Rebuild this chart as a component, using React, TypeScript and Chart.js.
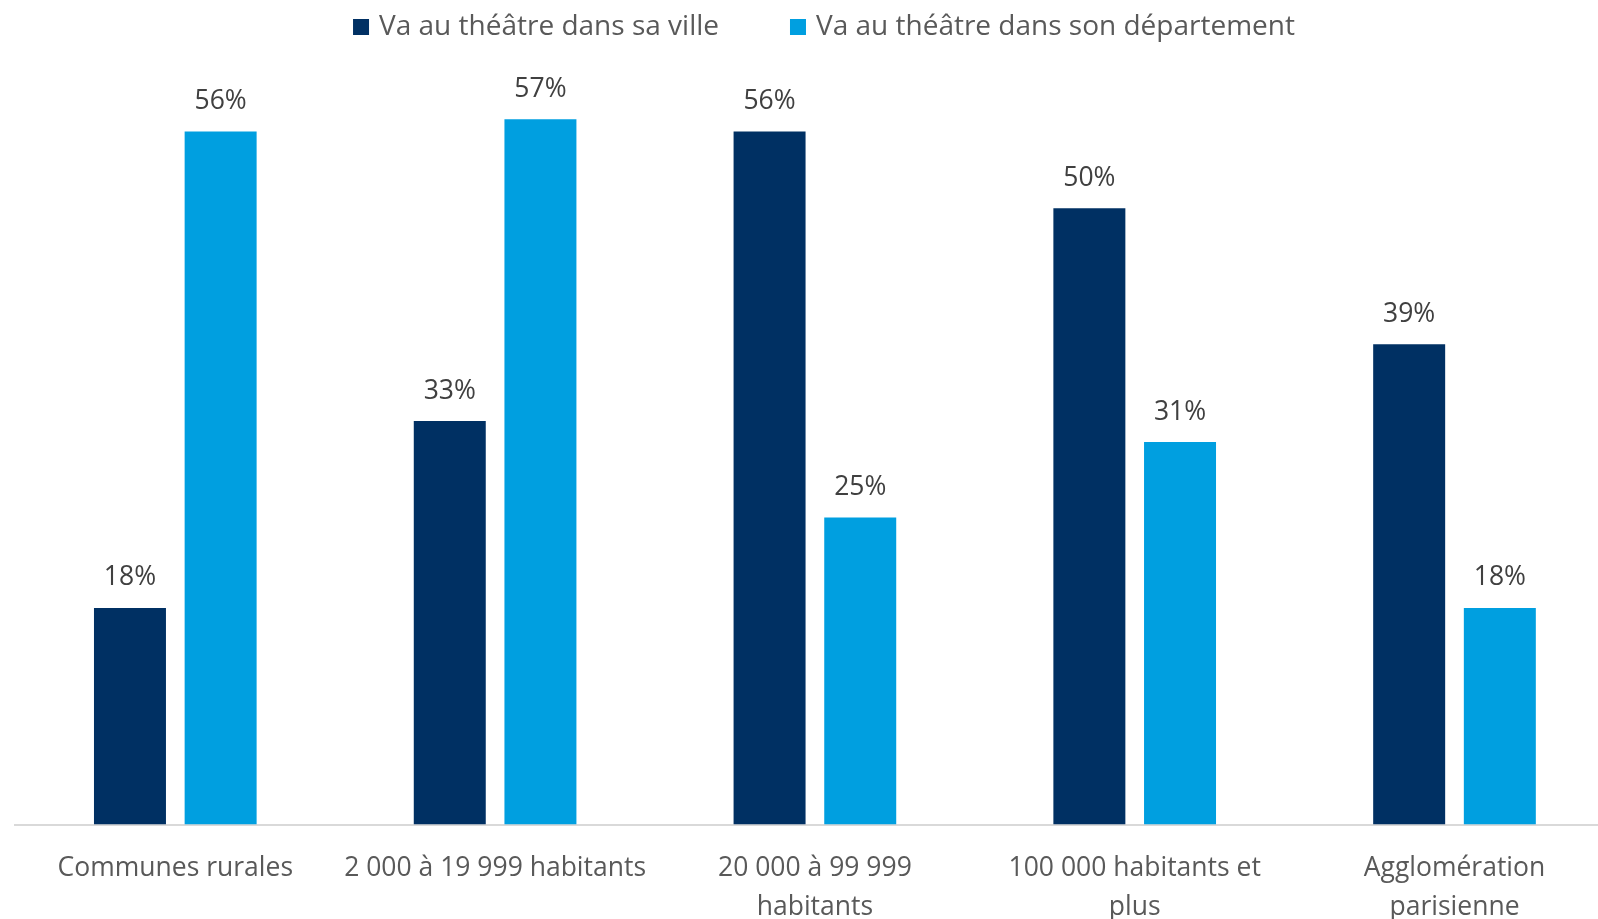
import React, { useEffect, useRef } from "react";
import { Chart, registerables } from "chart.js";

Chart.register(...registerables);

const categories: (string | string[])[] = [
  "Communes rurales",
  "2 000 à 19 999 habitants",
  ["20 000 à 99 999", "habitants"],
  ["100 000 habitants et", "plus"],
  ["Agglomération", "parisienne"],
];
const seriesNames = ["Va au théâtre dans sa ville", "Va au théâtre dans son département"];
const villeValues = [17.5, 32.6, 56.0, 49.8, 38.8];
const departementValues = [56.0, 57.0, 24.8, 30.9, 17.5];
const seriesColors = ["#003063", "#009FE0"];

const FONT = "'Open Sans', Lato, sans-serif";
const FONT_SIZE = 26.5;
const LEGEND_FONT_SIZE = 28;

const dataLabelPlugin = {
  id: "dataLabels",
  afterDatasetsDraw(chart: any) {
    const ctx = chart.ctx;
    ctx.save();
    ctx.font = `${FONT_SIZE}px ${FONT}`;
    ctx.fillStyle = "#404040";
    ctx.textAlign = "center";
    ctx.textBaseline = "middle";
    chart.data.datasets.forEach((ds: any, di: number) => {
      const meta = chart.getDatasetMeta(di);
      meta.data.forEach((el: any, i: number) => {
        const v = ds.data[i];
        ctx.fillText(`${Math.round(v)}%`, el.x, el.y - 30);
      });
    });
    ctx.restore();
  },
};

const legendPlugin = {
  id: "customLegend",
  afterDraw(chart: any) {
    const ctx = chart.ctx;
    ctx.save();
    ctx.font = `${LEGEND_FONT_SIZE}px ${FONT}`;
    ctx.textBaseline = "middle";
    ctx.textAlign = "left";
    const box = 16;
    const gapText = 10;
    const gapItem = 71;
    const widths = seriesNames.map((n) => ctx.measureText(n).width);
    const total =
      widths.reduce((a, w) => a + box + gapText + w, 0) + gapItem * (seriesNames.length - 1);
    const centerX = 824;
    const cy = 27;
    let x = centerX - total / 2;
    seriesNames.forEach((name, i) => {
      ctx.fillStyle = seriesColors[i];
      ctx.fillRect(x, cy - box / 2, box, box);
      x += box + gapText;
      ctx.fillStyle = "#595959";
      ctx.fillText(name, x, cy);
      x += widths[i] + gapItem;
    });
    ctx.restore();
  },
};

export default function App() {
  const ref = useRef<HTMLCanvasElement | null>(null);

  useEffect(() => {
    if (!ref.current) return;
    const chart = new Chart(ref.current, {
      type: "bar",
      data: {
        labels: categories,
        datasets: [
          {
            label: seriesNames[0],
            data: villeValues,
            backgroundColor: seriesColors[0],
            borderWidth: 0,
            barPercentage: 0.794,
            categoryPercentage: 0.567,
          },
          {
            label: seriesNames[1],
            data: departementValues,
            backgroundColor: seriesColors[1],
            borderWidth: 0,
            barPercentage: 0.794,
            categoryPercentage: 0.567,
          },
        ],
      },
      options: {
        responsive: false,
        animation: false,
        devicePixelRatio: 1,
        layout: { padding: { left: 15.4, right: 15.6, top: 82, bottom: 15.5 } },
        plugins: {
          legend: { display: false },
          tooltip: { enabled: false },
        },
        scales: {
          x: {
            grid: { display: false },
            border: { display: true, color: "#D9D9D9", width: 2 },
            ticks: {
              color: "#595959",
              font: { family: FONT, size: FONT_SIZE, lineHeight: 39 / FONT_SIZE },
              padding: 16.5,
              maxRotation: 0,
              autoSkip: false,
            },
          },
          y: {
            display: false,
            min: 0,
            max: 60,
          },
        },
      },
      plugins: [dataLabelPlugin, legendPlugin],
    });
    return () => chart.destroy();
  }, []);

  return (
    <div
      style={{
        position: "fixed",
        left: 0,
        top: 0,
        width: 1598,
        height: 919,
        overflow: "hidden",
        background: "#fff",
      }}
    >
      <canvas ref={ref} width={1630} height={959} style={{ display: "block", width: 1630, height: 959 }} />
    </div>
  );
}
